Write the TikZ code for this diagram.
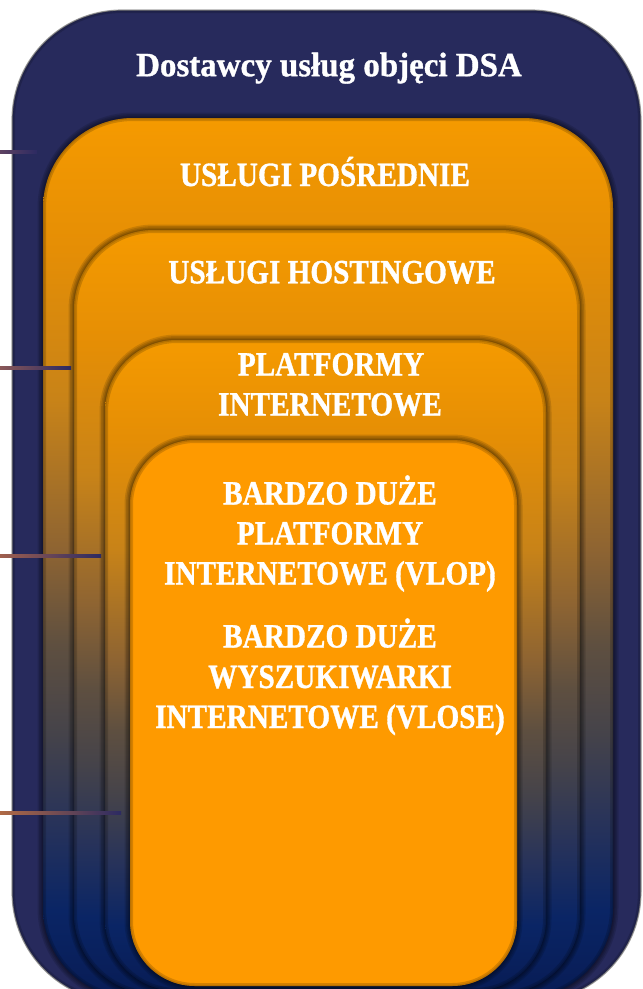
\documentclass[tikz,border=0pt]{standalone}
\usepackage{fontspec}
\newfontfamily\capsfont[FakeStretch=0.86,FakeBold=1]{Liberation Serif}
\newfontfamily\titlefont[FakeStretch=0.97,FakeBold=1]{Liberation Serif}
\definecolor{navyouter}{HTML}{272A5C}
\definecolor{orangeIn}{HTML}{FE9A00}
\definecolor{gA}{HTML}{F59A00}
\definecolor{gB}{HTML}{E58E05}
\definecolor{gC}{HTML}{C88318}
\definecolor{gD}{HTML}{8E6432}
\definecolor{gE}{HTML}{5E4F40}
\definecolor{gF}{HTML}{45434A}
\definecolor{gG}{HTML}{28335A}
\definecolor{gH}{HTML}{0A2565}
\definecolor{gI}{HTML}{081C55}
\definecolor{lineA}{HTML}{5E4262}
\definecolor{lineB}{HTML}{8A5858}
\definecolor{lineC}{HTML}{A0604E}
\definecolor{lineD}{HTML}{B06A45}
\definecolor{lineEnd}{HTML}{2C2A62}
\pgfdeclareverticalshading{boxshade}{100bp}{color(0bp)=(gI); color(25bp)=(gI); color(30bp)=(gH); color(35bp)=(gG); color(40bp)=(gF); color(45bp)=(gE); color(50.5bp)=(gD); color(59bp)=(gC); color(67.5bp)=(gB); color(75bp)=(gA); color(100bp)=(gA)}
\newcommand\innershade[5]{%
  \begin{scope}
    \clip[rounded corners=#5] (#1,#2) rectangle (#3,#4);
    \draw[black, opacity=0.16, line width=6pt, rounded corners=#5] (#1,#2) rectangle (#3,#4);
    \draw[black, opacity=0.12, line width=2.5pt, rounded corners=#5] (#1,#2) rectangle (#3,#4);
  \end{scope}}
\newcommand\layerbox[6]{%
  \foreach \w in {11,8,5,2.5}
    \draw[black, opacity=0.13, line width=\w pt, rounded corners=#5] (#1,#2) rectangle (#3,#4);
  \path[#6, rounded corners=#5] (#1,#2) rectangle (#3,#4);
  \innershade{#1}{#2}{#3}{#4}{#5}}
\begin{document}
\begin{tikzpicture}[x=1pt,y=-1pt,
  txt/.style={text=white, inner sep=0pt, anchor=base, font=\capsfont\bfseries\fontsize{34}{40}\selectfont},
  ttl/.style={text=white, inner sep=0pt, anchor=base, font=\titlefont\bfseries\fontsize{34}{40}\selectfont},
  tick/.style={right color=lineEnd}]
\useasboundingbox (0,0) rectangle (643,989);
\clip (0,0) rectangle (643,989);
% outer box
\draw[black!35, line width=1.2pt, fill=navyouter, rounded corners=110] (12,10) rectangle (641,1002);
\innershade{12}{10}{641}{1002}{110}
% nested boxes
\layerbox{43}{118}{613}{998}{90}{shading=boxshade}
\layerbox{74}{230}{580}{994}{80}{shading=boxshade}
\layerbox{105}{340}{546}{991}{72}{shading=boxshade}
\layerbox{130}{440}{517}{986}{65}{fill=orangeIn}
% texts
\node[ttl] (title) at (329,76.2) {Dostawcy usług objęci DSA};
\node[txt] (posr) at (325,186) {USŁUGI POŚREDNIE};
\node[txt] (host) at (332,283.3) {USŁUGI HOSTINGOWE};
\node[txt] (plat1) at (331,375.5) {PLATFORMY};
\node[txt] (plat2) at (330,415.5) {INTERNETOWE};
\node[txt] (vlop1) at (330,504.5) {BARDZO DUŻE};
\node[txt] (vlop2) at (330,544.5) {PLATFORMY};
\node[txt] (vlop3) at (330,584.5) {INTERNETOWE (VLOP)};
\node[txt] (vlose1) at (330,647.5) {BARDZO DUŻE};
\node[txt] (vlose2) at (330,688) {WYSZUKIWARKI};
\node[txt] (vlose3) at (330,728) {INTERNETOWE (VLOSE)};
% side ticks
\fill[tick, left color=lineA] (0,150.5) rectangle (37,153.5);
\fill[tick, left color=lineB] (0,366.5) rectangle (71,369.5);
\fill[tick, left color=lineC] (0,554.5) rectangle (101,557.5);
\fill[tick, left color=lineD] (0,811.5) rectangle (121,814.5);
\end{tikzpicture}
\end{document}
